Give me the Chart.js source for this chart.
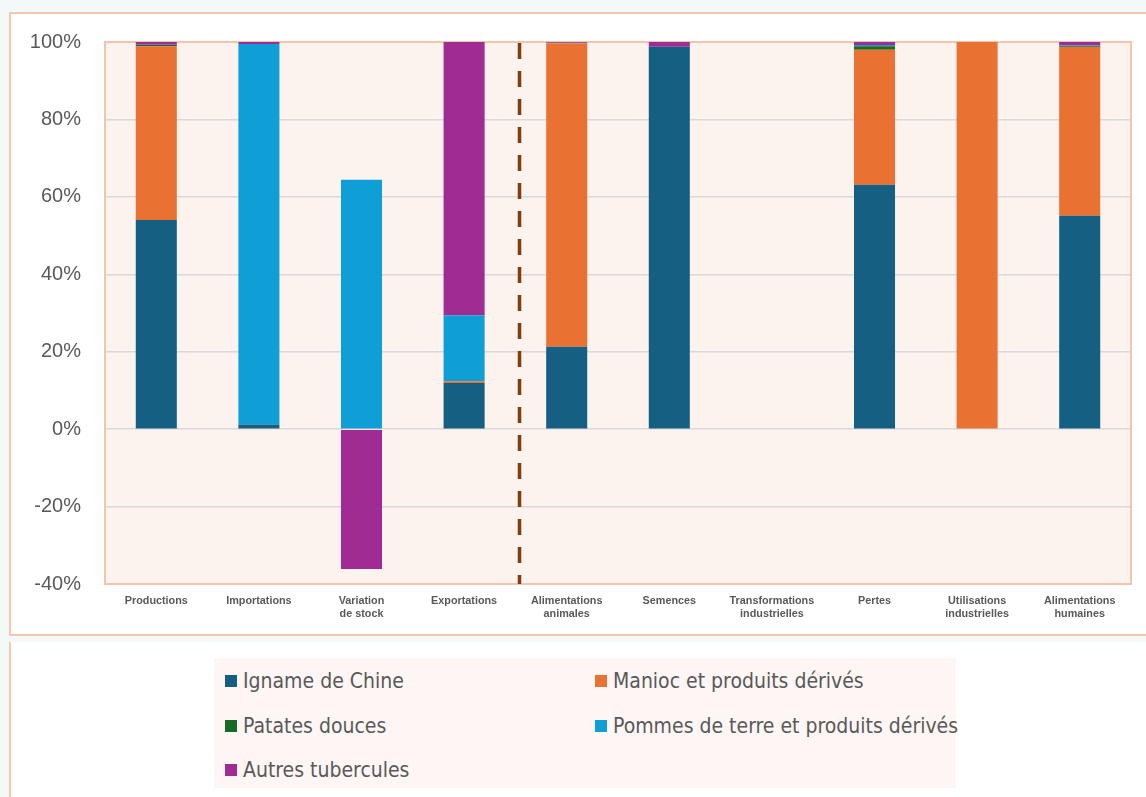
<!DOCTYPE html>
<html>
<head>
<meta charset="utf-8">
<script src="https://cdn.jsdelivr.net/npm/chart.js@4"></script>
<style>
  body { margin: 0; background: #f3f8f8; width: 1146px; height: 797px; overflow: hidden; position: relative; font-family: "Liberation Sans", Arial, sans-serif; }
  #card1 { position: absolute; left: 9px; top: 12px; width: 1140px; height: 620px; background: #fff; border: 2px solid #f6c7b0; border-right: none; }
  #card2 { position: absolute; left: 9px; top: 642px; width: 1140px; height: 160px; background: #fff; border-left: 2px solid #f6c7b0; }
  #wrap { position: absolute; left: 0; top: 0; width: 1146px; height: 640px; }
  #legend { position: absolute; left: 214px; top: 658px; width: 742px; height: 130px; background: #fdf6f4; }
  .item { position: absolute; font-family: "DejaVu Sans Condensed", "Liberation Sans Narrow", sans-serif; font-size: 21px; color: #595959; white-space: nowrap; line-height: 24px; }
  .item span.box { position: absolute; left: 0; top: 6px; width: 12px; height: 12px; }
  .item span.txt { position: absolute; left: 18px; top: 0; }
</style>
</head>
<body>
<div id="card1"></div>
<div id="card2"></div>
<div id="wrap"><canvas id="chart"></canvas></div>
<div id="legend"></div>
<script>
var categories = [['Productions'], ['Importations'], ['Variation', 'de stock'], ['Exportations'],
    ['Alimentations', 'animales'], ['Semences'], ['Transformations', 'industrielles'], ['Pertes'],
    ['Utilisations', 'industrielles'], ['Alimentations', 'humaines']];

var seriesNames = ['Igname de Chine', 'Manioc et produits dérivés', 'Patates douces',
    'Pommes de terre et produits dérivés', 'Autres tubercules'];
var seriesColors = ['#156082', '#e97132', '#196b24', '#0f9ed5', '#a02b93'];

var igname  = [54.0, 1.2, 0, 11.9, 21.3, 98.8, 0, 63.1, 0, 55.1];
var manioc  = [44.9, 0, 0, 0.5, 78.4, 0, 0, 34.9, 100, 43.6];
var patates = [0.3, 0, 0, 0, 0, 0, 0, 0.9, 0, 0.2];
var pommes  = [0.1, 98.3, 64.4, 17.0, 0.1, 0, 0, 0.3, 0, 0.2];
var autres  = [0.7, 0.5, -36.1, 70.6, 0.2, 1.2, 0, 0.8, 0, 0.9];

var yTicks = [-40, -20, 0, 20, 40, 60, 80, 100];

var seriesData = [igname, manioc, patates, pommes, autres];

var datasets = [];
for (var i = 0; i < seriesNames.length; i++) {
    datasets.push({
        label: seriesNames[i],
        data: seriesData[i],
        backgroundColor: seriesColors[i],
        borderWidth: 0,
        barPercentage: 0.4,
        categoryPercentage: 1.0
    });
}

// fond et bordure de la zone de tracé, plus la ligne pointillée
var plotDeco = {
    id: 'plotDeco',
    beforeDraw: function(chart) {
        var a = chart.chartArea;
        var ctx = chart.ctx;
        ctx.save();
        ctx.fillStyle = '#fcf3ee';
        ctx.fillRect(a.left, a.top, a.right - a.left, a.bottom - a.top);
        ctx.restore();
    },
    beforeDatasetsDraw: function(chart) {
        var a = chart.chartArea;
        var ctx = chart.ctx;
        ctx.save();
        ctx.strokeStyle = '#f4c5ad';
        ctx.lineWidth = 2;
        ctx.strokeRect(a.left, a.top, a.right - a.left, a.bottom - a.top);
        ctx.restore();
    },
    afterDatasetsDraw: function(chart) {
        var a = chart.chartArea;
        var x = chart.scales.x;
        var p3 = x.getPixelForValue(3), p4 = x.getPixelForValue(4);
        var px = p3 + (p4 - p3) * 0.54;
        var ctx = chart.ctx;
        ctx.save();
        ctx.strokeStyle = '#843c0c';
        ctx.lineWidth = 3.5;
        ctx.setLineDash([16, 12]);
        ctx.beginPath();
        ctx.moveTo(px, a.top + 1);
        ctx.lineTo(px, a.bottom);
        ctx.stroke();
        ctx.restore();
    }
};

new Chart(document.getElementById('chart').getContext('2d'), {
    type: 'bar',
    data: { labels: categories, datasets: datasets },
    plugins: [plotDeco],
    options: {
        responsive: true,
        maintainAspectRatio: false,
        animation: false,
        layout: { padding: { left: 0, right: 15, top: 42, bottom: 0 } },
        plugins: { legend: { display: false }, tooltip: { enabled: false } },
        scales: {
            x: {
                stacked: true,
                grid: { display: false, drawTicks: false },
                border: { display: false },
                ticks: {
                    color: '#595959',
                    font: { family: 'Liberation Sans', size: 10.8, weight: 'bold' },
                    padding: 11,
                    maxRotation: 0,
                    autoSkip: false
                },
                afterFit: function(s) { s.height = 56; }
            },
            y: {
                stacked: true,
                min: -40,
                max: 100,
                afterBuildTicks: function(s) { s.ticks = yTicks.map(function(v) { return { value: v }; }); },
                grid: { color: '#d9d9d9', lineWidth: 1.5, drawTicks: false },
                border: { display: false },
                ticks: {
                    color: '#595959',
                    font: { family: 'Liberation Sans', size: 20 },
                    padding: 24,
                    callback: function(v) { return v + '%'; }
                },
                afterFit: function(s) { s.width = 105; }
            }
        }
    }
});

// légende HTML
var legend = document.getElementById('legend');
var pos = [[11, 11], [381, 11], [11, 56], [381, 56], [11, 100]];
for (var j = 0; j < seriesNames.length; j++) {
    var it = document.createElement('div');
    it.className = 'item';
    it.style.left = pos[j][0] + 'px';
    it.style.top = pos[j][1] + 'px';
    it.innerHTML = '<span class="box" style="background:' + seriesColors[j] + '"></span><span class="txt">' + seriesNames[j] + '</span>';
    legend.appendChild(it);
}
</script>
</body>
</html>
